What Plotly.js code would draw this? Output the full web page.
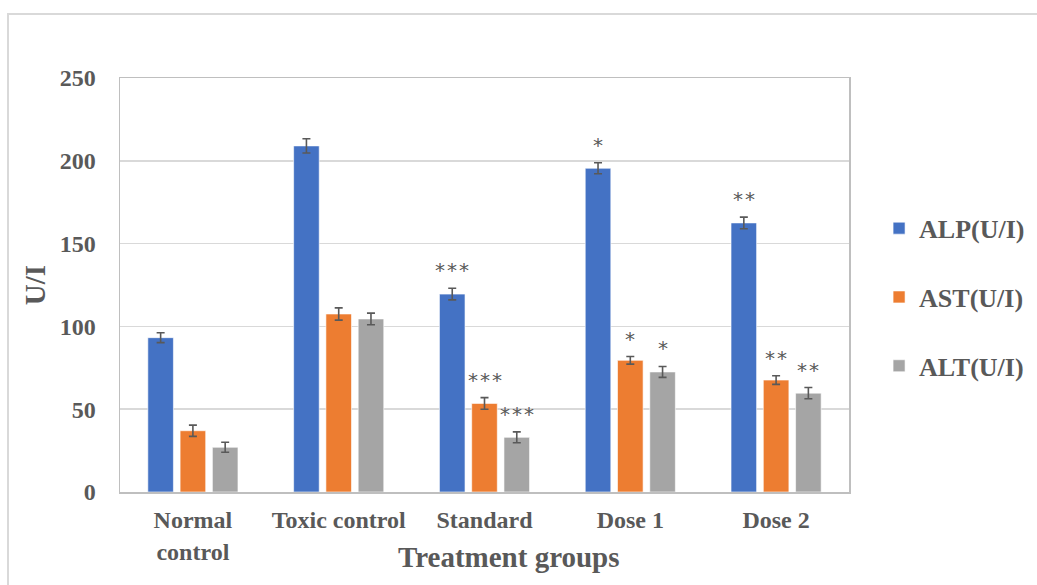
<!DOCTYPE html>
<html>
<head>
<meta charset="utf-8">
<script src="https://cdn.plot.ly/plotly-3.0.1.min.js"></script>
<style>html,body{margin:0;padding:0;background:#fff;}#chart{width:1037px;height:585px;}</style>
</head>
<body>
<div id="chart"></div>
<script>
const categories = ["Normal<br>control", "Toxic control", "Standard", "Dose 1", "Dose 2"];
const seriesNames = ["ALP(U/I)", "AST(U/I)", "ALT(U/I)"];
const alp = [93.2, 209, 119.5, 195.5, 162.5];
const ast = [37, 107.5, 53.5, 79.5, 67.6];
const alt = [27, 104.5, 33, 72.5, 59.7];
const alpErr = [3, 4.3, 3.5, 3.3, 3.5];
const astErr = [3.4, 3.7, 3.5, 2.3, 2.6];
const altErr = [3, 3.5, 3.3, 3.3, 3.4];
const alpSig = ["", "", "***", "*", "**"];
const astSig = ["", "", "***", "*", "**"];
const altSig = ["", "", "***", "*", "**"];
const yTicks = [0, 50, 100, 150, 200, 250];
const xTitle = "Treatment groups";
const yTitle = "U/I";

const colors = ["#4472C4", "#ED7D31", "#A5A5A5"];
const textColor = "#595959";
const serif = "Liberation Serif, Times New Roman, serif";

const values = [alp, ast, alt];
const errs = [alpErr, astErr, altErr];
const sigs = [alpSig, astSig, altSig];

const traces = values.map((v, i) => ({
  type: "bar",
  name: seriesNames[i],
  x: categories,
  y: v,
  legendgroup: "g" + i,
  marker: {color: colors[i], line: {color: "rgba(255,255,255,0.6)", width: 1}},
  error_y: {type: "data", array: errs[i], visible: true, color: "#595959", thickness: 1.6, width: 4}
}));

const slot = 32.3;
const annotations = [];
sigs.forEach((s, i) => {
  s.forEach((txt, j) => {
    if (!txt) return;
    annotations.push({
      x: categories[j], y: values[i][j] + errs[i][j], xref: "x", yref: "y",
      xshift: (i - 1) * slot, yshift: 4,
      yanchor: "bottom", showarrow: false,
      text: txt.split("").join("\u200A"),
      font: {family: "DejaVu Sans, sans-serif", size: 20, color: textColor}
    });
  });
});
annotations.push({
  text: xTitle, xref: "paper", yref: "paper", x: 0.533, y: -0.157,
  xanchor: "center", yanchor: "middle", showarrow: false,
  font: {family: serif, size: 29, color: textColor, weight: "bold"}
});

const layout = {
  width: 1037, height: 585,
  margin: {l: 120, r: 188, t: 78, b: 93},
  paper_bgcolor: "#fff", plot_bgcolor: "#fff",
  barmode: "group", bargap: 0.336, bargroupgap: 0.207,
  font: {family: serif, color: textColor},
  showlegend: true,
  legend: {
    xref: "container", yref: "container",
    x: 0.8477, xanchor: "left", y: 0.65, yanchor: "top",
    font: {family: serif, size: 26, color: textColor, weight: "bold"},
    tracegroupgap: 32, bgcolor: "rgba(0,0,0,0)"
  },
  xaxis: {
    type: "category",
    tickfont: {family: serif, size: 24, color: textColor, weight: "bold"},
    ticks: "outside", ticklen: 6, tickcolor: "rgba(0,0,0,0)",
    showline: true, linecolor: "#BFBFBF", linewidth: 1.5, mirror: true,
    automargin: false
  },
  yaxis: {
    range: [0, 250], tickvals: yTicks, ticktext: yTicks.map(String),
    tickfont: {family: serif, size: 24, color: textColor, weight: "bold"},
    ticks: "outside", ticklen: 18, tickcolor: "rgba(0,0,0,0)",
    showgrid: true, gridcolor: "#D9D9D9", gridwidth: 1.5,
    showline: true, linecolor: "#BFBFBF", linewidth: 1.5, mirror: true,
    zeroline: false,
    title: {text: yTitle, font: {family: serif, size: 29, color: textColor, weight: "bold"}, standoff: 5},
    automargin: false
  },
  annotations: annotations,
  shapes: [{
    type: "rect", xref: "paper", yref: "paper",
    x0: (8 - 120) / 729, x1: (1045 - 120) / 729,
    y0: (492 - 600) / 414, y1: (492 - 14) / 414,
    line: {color: "#D9D9D9", width: 2}, layer: "below"
  }]
};

Plotly.newPlot("chart", traces, layout, {displayModeBar: false, staticPlot: true});
</script>
</body>
</html>
